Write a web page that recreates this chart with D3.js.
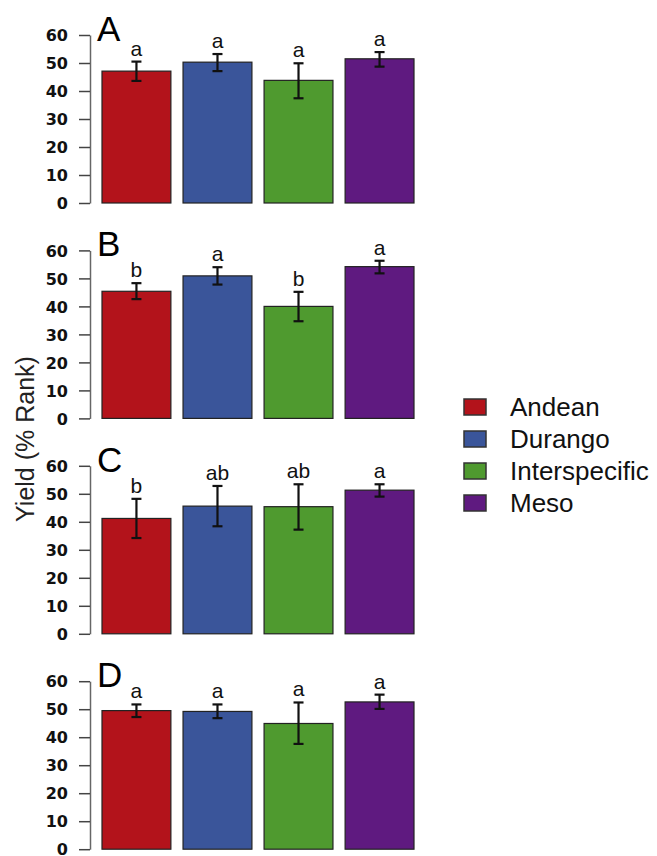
<!DOCTYPE html>
<html>
<head>
<meta charset="utf-8">
<script src="https://cdn.jsdelivr.net/npm/d3@7"></script>
<style>
  body { margin: 0; background: #fff; }
  svg { display: block; font-family: "Liberation Sans", Arial, sans-serif; }
</style>
</head>
<body>
<script>
// data
var groups = ["Andean", "Durango", "Interspecific", "Meso"];
var colors = ["#b3131b", "#3a559a", "#4f9a2f", "#5f1a80"];
var panels = ["A", "B", "C", "D"];
var yTicks = [0, 10, 20, 30, 40, 50, 60];

var means = [
  [47.1, 50.3, 43.8, 51.5],
  [45.4, 50.9, 40.0, 54.2],
  [41.2, 45.6, 45.4, 51.3],
  [49.5, 49.2, 44.9, 52.6]
];
var errHi = [
  [50.5, 53.2, 49.9, 53.9],
  [48.3, 54.0, 45.2, 56.3],
  [48.2, 52.8, 53.4, 53.4],
  [51.7, 51.7, 52.4, 55.2]
];
var errLo = [
  [43.6, 47.1, 37.4, 48.7],
  [42.6, 47.8, 34.7, 51.8],
  [34.2, 38.4, 37.2, 49.0],
  [47.2, 46.8, 37.6, 50.1]
];
var letters = [
  ["a", "a", "a", "a"],
  ["b", "a", "b", "a"],
  ["b", "ab", "ab", "a"],
  ["a", "a", "a", "a"]
];

// layout
var W = 657, H = 856;
var top0 = 35, panelStep = 215.4, panelH = 168;

var svg = d3.select("body").append("svg")
  .attr("width", W)
  .attr("height", H);

var x = d3.scaleBand()
  .domain(groups)
  .range([102, 414])
  .paddingInner(0.15)
  .paddingOuter(0);

panels.forEach(function(p, i) {
  var t = top0 + i * panelStep;
  var y = d3.scaleLinear().domain([0, 60]).range([t + panelH, t]);
  var g = svg.append("g");

  // axis
  var ax = g.append("g")
    .attr("transform", "translate(90,0)")
    .call(d3.axisLeft(y).tickValues(yTicks).tickSize(11).tickSizeOuter(0).tickPadding(11));
  ax.select(".domain").attr("stroke", "#666").attr("stroke-width", 1.5);
  ax.selectAll(".tick line").attr("stroke", "#444").attr("stroke-width", 1.5);
  ax.selectAll(".tick text")
    .attr("fill", "#111")
    .style("font-family", "'DejaVu Sans', sans-serif")
    .style("font-size", "16px")
    .style("font-weight", "bold")
    .attr("dy", "0.36em");

  // bars
  g.selectAll("rect.bar")
    .data(groups)
    .enter().append("rect")
    .attr("class", "bar")
    .attr("x", function(d) { return x(d); })
    .attr("width", x.bandwidth())
    .attr("y", function(d, j) { return y(means[i][j]); })
    .attr("height", function(d, j) { return y(0) - y(means[i][j]); })
    .attr("fill", function(d, j) { return colors[j]; })
    .attr("stroke", "#222")
    .attr("stroke-width", 1.2);

  // error bars
  var eb = g.selectAll("g.err")
    .data(groups)
    .enter().append("g")
    .attr("class", "err")
    .attr("stroke", "#111")
    .attr("stroke-width", 2.2);
  eb.append("line")
    .attr("x1", function(d) { return x(d) + x.bandwidth() / 2; })
    .attr("x2", function(d) { return x(d) + x.bandwidth() / 2; })
    .attr("y1", function(d, j) { return y(errLo[i][j]); })
    .attr("y2", function(d, j) { return y(errHi[i][j]); });
  [errLo, errHi].forEach(function(arr) {
    eb.append("line")
      .attr("x1", function(d) { return x(d) + x.bandwidth() / 2 - 5; })
      .attr("x2", function(d) { return x(d) + x.bandwidth() / 2 + 5; })
      .attr("y1", function(d, j) { return y(arr[i][j]); })
      .attr("y2", function(d, j) { return y(arr[i][j]); });
  });

  // significance letters
  g.selectAll("text.sig")
    .data(groups)
    .enter().append("text")
    .attr("class", "sig")
    .attr("x", function(d) { return x(d) + x.bandwidth() / 2; })
    .attr("y", function(d, j) { return y(errHi[i][j]) - 6; })
    .attr("text-anchor", "middle")
    .style("font-size", "21px")
    .attr("fill", "#111")
    .text(function(d, j) { return letters[i][j]; });

  // panel letter
  g.append("text")
    .attr("x", 97)
    .attr("y", t + 6)
    .style("font-size", "35px")
    .attr("fill", "#000")
    .text(p);
});

// y label
svg.append("text")
  .attr("transform", "translate(34,439) rotate(-90)")
  .attr("text-anchor", "middle")
  .style("font-size", "25px")
  .attr("fill", "#222")
  .text("Yield (% Rank)");

// legend
var leg = svg.selectAll("g.leg")
  .data(groups)
  .enter().append("g")
  .attr("class", "leg")
  .attr("transform", function(d, j) { return "translate(464," + (416 + j * 32) + ")"; });
leg.append("rect")
  .attr("x", 0)
  .attr("y", -17)
  .attr("width", 22)
  .attr("height", 16)
  .attr("fill", function(d, j) { return colors[j]; })
  .attr("stroke", "#333")
  .attr("stroke-width", 1.5);
leg.append("text")
  .attr("x", 46)
  .attr("y", 0)
  .style("font-size", "26px")
  .attr("fill", "#111")
  .text(function(d) { return d; });
</script>
</body>
</html>
